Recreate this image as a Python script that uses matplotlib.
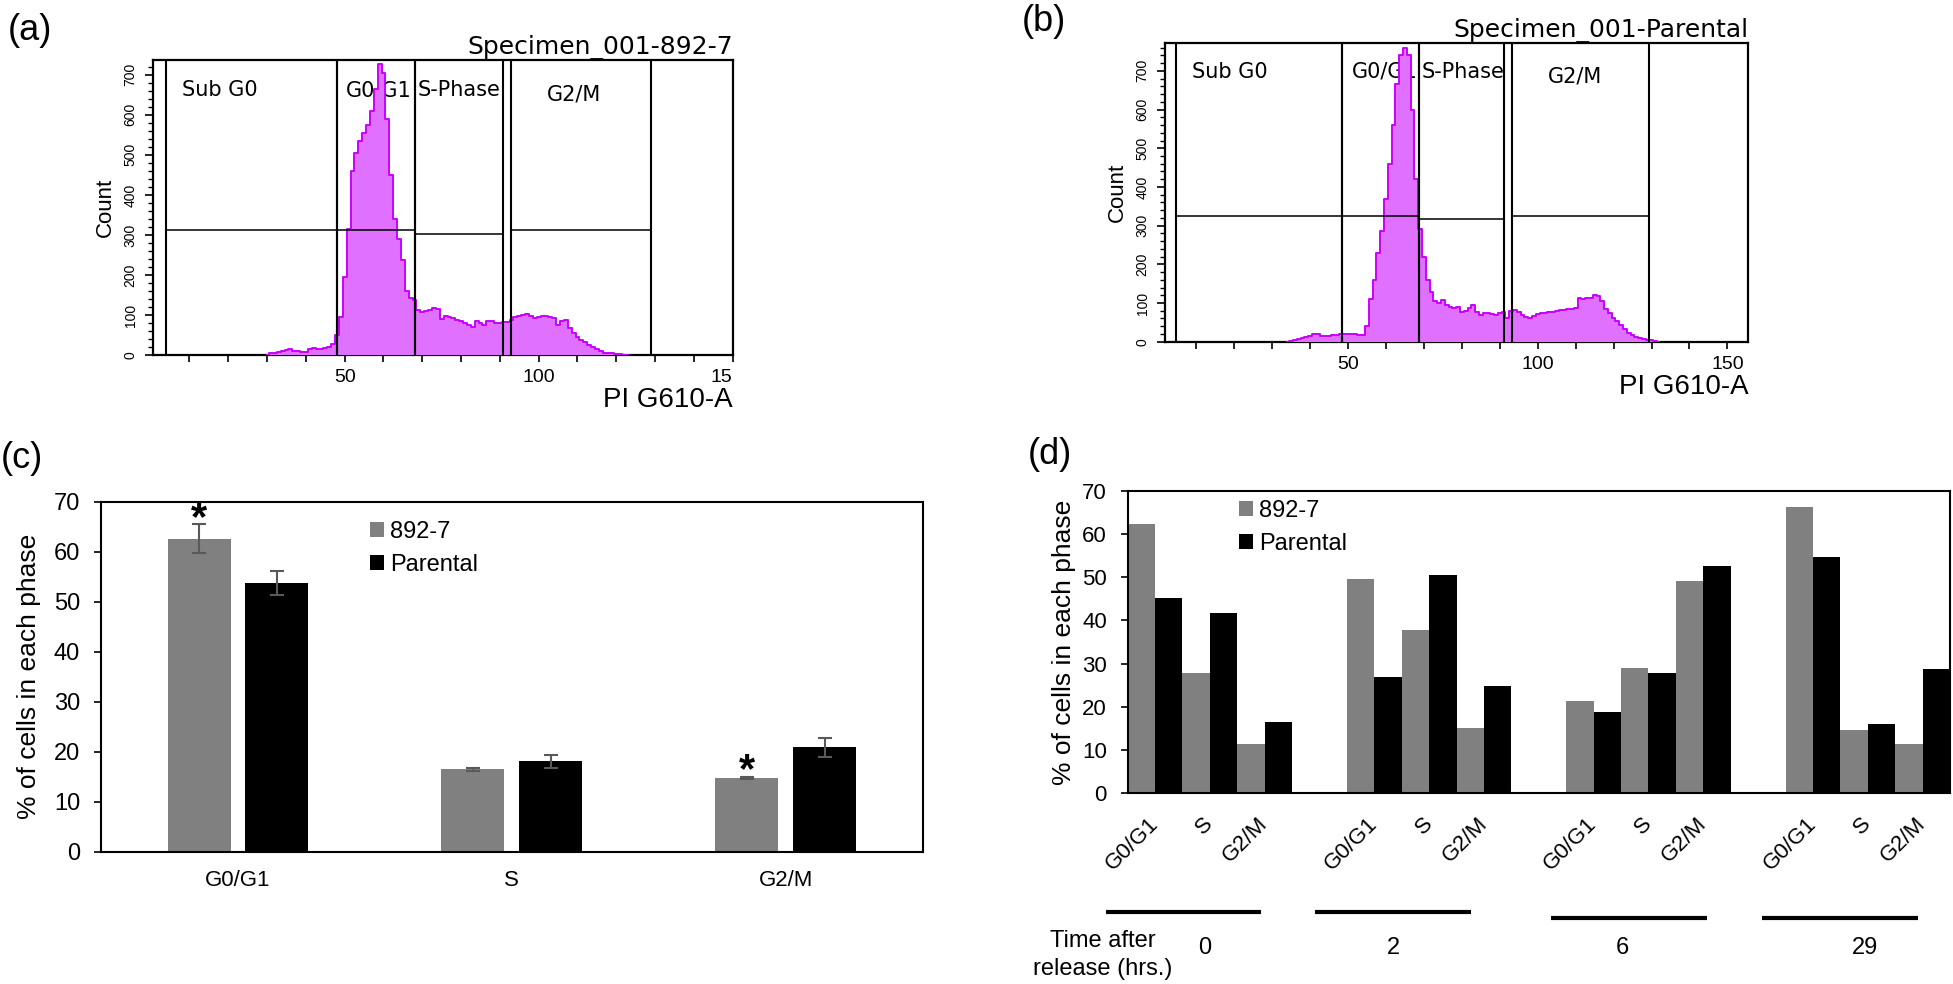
import numpy as np
import matplotlib.pyplot as plt
from matplotlib.transforms import blended_transform_factory

plt.rcParams['font.family'] = ['Liberation Sans', 'DejaVu Sans']

W, H = 1953, 984

# (a) / (b): PI histograms, one count per channel
chan_a = np.arange(30, 124)
count_a = [0, 5, 6, 7, 9, 12, 14, 10, 9, 8,
           7, 14, 17, 16, 16, 18, 21, 27, 50, 95,
           196, 315, 460, 505, 535, 555, 575, 610, 665, 728,
           705, 590, 450, 340, 290, 237, 160, 142, 137, 112,
           108, 110, 112, 118, 115, 90, 98, 96, 92, 88,
           84, 80, 75, 71, 84, 80, 75, 84, 86, 79,
           80, 82, 83, 88, 94, 98, 101, 102, 98, 93,
           94, 97, 98, 96, 92, 76, 85, 87, 68, 56,
           46, 38, 32, 25, 19, 14, 9, 6, 5, 4,
           3, 2, 1, 0]

chan_b = np.arange(34, 133)
count_b = [0, 3, 5, 8, 10, 12, 16, 20, 21, 14,
           14, 16, 17, 18, 19, 20, 20, 20, 19, 17,
           18, 40, 110, 160, 230, 285, 370, 460, 560, 665,
           740, 758, 740, 600, 420, 290, 220, 160, 128, 104,
           100, 108, 96, 90, 88, 90, 78, 80, 86, 94,
           78, 70, 74, 75, 72, 69, 74, 77, 62, 80,
           82, 76, 68, 64, 61, 66, 72, 73, 75, 78,
           78, 80, 82, 83, 84, 85, 88, 112, 110, 114,
           112, 120, 118, 104, 85, 73, 62, 54, 42, 32,
           22, 18, 13, 9, 6, 4, 4, 2, 0]

# gate regions: (start, end, marker height)
regions_a = [(3.97, 47.96, 312), (47.96, 68.0, 312), (68.0, 90.9, 302), (92.9, 128.9, 312)]
regions_b = [(4.8, 48.4, 326), (48.4, 68.6, 326), (68.6, 91.2, 316), (93.1, 129.2, 326)]
gate_names = ['Sub G0', 'G0/G1', 'S-Phase', 'G2/M']

# (c) mean % of cells in each phase
phases = ['G0/G1', 'S', 'G2/M']
c_892 = [62.6, 16.5, 14.8]
c_892_err = [2.9, 0.3, 0.2]
c_par = [53.8, 18.1, 20.9]
c_par_err = [2.4, 1.3, 1.9]
c_signif = [True, False, True]

# (d) % of cells per phase after release
hours = ['0', '2', '6', '29']
d_892 = [[62.4, 27.8, 11.5], [49.5, 37.7, 15.2], [21.3, 28.9, 49.2], [66.3, 14.6, 11.5]]
d_par = [[45.2, 41.6, 16.4], [26.8, 50.5, 24.9], [18.8, 27.8, 52.7], [54.6, 16.1, 28.8]]

GRAY = '#808080'
HIST_FILL = '#E070FF'
HIST_EDGE = '#C800FF'


def px_box(l, t, r, b):
    return [l / W, 1 - b / H, (r - l) / W, (b - t) / H]


fig = plt.figure(figsize=(W / 100, H / 100), dpi=100)


def fcs_panel(rect, chan, counts, regions, label_pos, title, xlim, ylim, last_label):
    ax = fig.add_axes(rect)
    ax.fill_between(chan, counts, step='mid', color=HIST_FILL, lw=0, zorder=3)
    ax.step(chan, counts, where='mid', color=HIST_EDGE, lw=1.4, zorder=4)
    for x0, x1, h in regions:
        ax.axvline(x0, color='black', lw=1.5, zorder=5)
        ax.axvline(x1, color='black', lw=1.5, zorder=5)
        ax.plot([x0, x1], [h, h], color='black', lw=1.1, zorder=5)
    for name, (x, y) in zip(gate_names, label_pos):
        ax.text(x, y, name, fontsize=15, family='DejaVu Sans', va='center', zorder=2)
    ax.set_xlim(*xlim)
    ax.set_ylim(*ylim)
    ax.set_xticks([50, 100, 150])
    ax.set_xticklabels(['50', '100', last_label])
    ax.set_xticks(np.arange(10, 151, 10), minor=True)
    ax.set_yticks(np.arange(0, 701, 100))
    ax.set_yticks(np.arange(0, ylim[1], 20), minor=True)
    ax.tick_params(axis='x', which='both', direction='out', length=5, width=1.2, pad=5, labelsize=14)
    ax.tick_params(axis='y', which='major', direction='out', length=6, width=1.2, pad=5,
                   labelsize=10, labelrotation=90)
    ax.tick_params(axis='y', which='minor', direction='out', length=3.5, width=1)
    for lab in ax.get_yticklabels():
        lab.set_va('center')
    if last_label == '15':
        ax.get_xticklabels()[-1].set_ha('right')
    for sp in ax.spines.values():
        sp.set_linewidth(1.6)
    ax.set_title(title, loc='right', fontsize=18, family='DejaVu Sans', pad=3)
    ax.set_xlabel('PI G610-A', loc='right', fontsize=20, labelpad=1)
    ax.set_ylabel('Count', fontsize=16, labelpad=6)
    return ax


fcs_panel(px_box(153, 60, 732.7, 355), chan_a, count_a, regions_a,
          [(8.0, 662), (50.4, 662), (68.9, 662), (102.2, 652)],
          'Specimen_001-892-7', (0.6, 150), (0, 737), '15')
fcs_panel(px_box(1165, 43, 1748.3, 341.7), chan_b, count_b, regions_b,
          [(8.8, 698), (51.0, 698), (69.4, 698), (102.7, 685)],
          'Specimen_001-Parental', (1.77, 155.5), (0, 772), '150')

# ---- (c)
ax_c = fig.add_axes(px_box(101, 501.7, 922.6, 851.7))
xc = np.arange(len(phases))
ekw = dict(ecolor='#595959', elinewidth=1.5, capsize=5, capthick=1.5)
ax_c.bar(xc - 0.142, c_892, 0.23, yerr=c_892_err, color=GRAY, error_kw=ekw, label='892-7')
ax_c.bar(xc + 0.142, c_par, 0.23, yerr=c_par_err, color='black', error_kw=ekw, label='Parental')
for i, sig in enumerate(c_signif):
    if sig:
        ax_c.annotate('*', xy=(xc[i] - 0.142, c_892[i] + c_892_err[i]), xytext=(0, -4),
                      textcoords='offset points', ha='center', va='baseline',
                      fontsize=30, fontweight='bold')
ax_c.set_xlim(-0.5, 2.5)
ax_c.set_ylim(0, 70)
ax_c.set_yticks(np.arange(0, 71, 10))
ax_c.set_xticks(xc)
ax_c.set_xticklabels(phases)
ax_c.tick_params(axis='y', direction='out', length=5, width=1.2, pad=10, labelsize=17)
ax_c.tick_params(axis='x', length=0, pad=13, labelsize=16)
for sp in ax_c.spines.values():
    sp.set_linewidth(1.5)
ax_c.set_ylabel('% of cells in each phase', fontsize=19, labelpad=9)
ax_c.legend(loc='upper left', bbox_to_anchor=(370 / W, 1 - 521 / H), bbox_transform=fig.transFigure,
            frameon=False, fontsize=17, handlelength=0.6, handleheight=0.6, handletextpad=0.25,
            labelspacing=0.45, borderpad=0, borderaxespad=0)

# ---- (d)
ax_d = fig.add_axes(px_box(1127.6, 490.8, 1950, 793.2))
tick_pos = []
for g in range(len(hours)):
    xs = 4 * g + np.arange(3)
    ax_d.bar(xs - 0.25, d_892[g], 0.5, color=GRAY, label='892-7' if g == 0 else None)
    ax_d.bar(xs + 0.25, d_par[g], 0.5, color='black', label='Parental' if g == 0 else None)
    tick_pos.extend(xs)
ax_d.set_xlim(-0.5, 14.5)
ax_d.set_ylim(0, 70)
ax_d.set_yticks(np.arange(0, 71, 10))
ax_d.set_xticks(tick_pos)
ax_d.set_xticklabels(phases * len(hours), rotation=45, ha='right', va='center',
                     rotation_mode='anchor')
ax_d.tick_params(axis='y', direction='out', length=5, width=1.2, pad=10, labelsize=16)
ax_d.tick_params(axis='x', length=0, pad=20, labelsize=16)
for sp in ax_d.spines.values():
    sp.set_linewidth(1.5)
ax_d.set_ylabel('% of cells in each phase', fontsize=19, labelpad=4)
ax_d.legend(loc='upper left', bbox_to_anchor=(1239 / W, 1 - 500 / H), bbox_transform=fig.transFigure,
            frameon=False, fontsize=17, handlelength=0.6, handleheight=0.6, handletextpad=0.25,
            labelspacing=0.45, borderpad=0, borderaxespad=0)

# time bars and labels under (d)
bracket_spans = [(-0.886, 1.937), (2.91, 5.756), (7.23, 10.07), (11.07, 13.92)]
bracket_y = [912.3, 912.3, 917.6, 917.6]
hour_x = [0.913, 4.35, 8.52, 12.95]
trans = blended_transform_factory(ax_d.transData, fig.transFigure)
for (x0, x1), yb in zip(bracket_spans, bracket_y):
    ax_d.plot([x0, x1], [1 - yb / H] * 2, transform=trans, color='black', lw=3,
              clip_on=False, solid_capstyle='butt')
for x, h in zip(hour_x, hours):
    ax_d.text(x, 1 - 947.6 / H, h, transform=trans, ha='center', va='center', fontsize=17)
fig.text(1103 / W, 1 - 955 / H, 'Time after\nrelease (hrs.)', ha='center', va='center',
         fontsize=17, linespacing=1.3)

# panel letters
for s, x, y in [('(a)', 8, 30), ('(b)', 1022, 21.5), ('(c)', 1, 458), ('(d)', 1028, 455)]:
    fig.text(x / W, 1 - y / H, s, fontsize=26, va='center', ha='left')

fig.savefig('out.png', dpi=100)
